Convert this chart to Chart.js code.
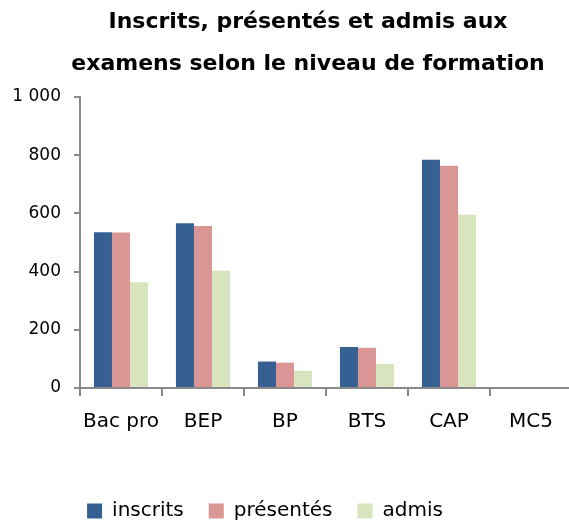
<!DOCTYPE html>
<html>
<head>
<meta charset="utf-8">
<style>
  html, body { margin: 0; padding: 0; background: #fff; overflow: hidden; }
  #wrap { width: 580px; height: 520px; }
</style>
<script src="https://cdn.jsdelivr.net/npm/chart.js@4/dist/chart.umd.min.js"></script>
</head>
<body>
<div id="wrap"><canvas id="chart"></canvas></div>
<script>
// Données
const categories = ['Bac pro', 'BEP', 'BP', 'BTS', 'CAP', 'MC5'];
const inscrits = [535, 566, 91, 141, 784, 0];
const presentes = [534, 557, 87, 138, 764, 0];
const admis = [363, 403, 59, 83, 595, 0];
const yTicks = [0, 200, 400, 600, 800, 1000];

const axisGray = '#8a8a8a';
const fontName = 'DejaVu Sans';

// Le titre et la légende ne sont pas centrés sur la même verticale dans l'original
function shiftBox(box, dx, dy) {
    box.left += dx; box.right += dx;
    box.top += dy; box.bottom += dy;
}
const boxOffsets = {
    id: 'boxOffsets',
    afterLayout(chart) {
        shiftBox(chart.titleBlock, 22, 0);
        shiftBox(chart.legend, -21, 28);
    }
};

function frNumber(v) {
    return String(v).replace(/\B(?=(\d{3})+$)/g, ' ');
}

const ctx = document.getElementById('chart').getContext('2d');
new Chart(ctx, {
    type: 'bar',
    data: {
        labels: categories,
        datasets: [
            { label: 'inscrits', data: inscrits, backgroundColor: '#376092' },
            { label: 'présentés', data: presentes, backgroundColor: '#d99694' },
            { label: 'admis', data: admis, backgroundColor: '#d7e4bd' },
        ],
    },
    options: {
        responsive: true,
        maintainAspectRatio: false,
        animation: false,
        layout: { padding: { left: 0, right: 8, top: 0, bottom: 17 } },
        datasets: { bar: { barPercentage: 1, categoryPercentage: 0.66 } },
        plugins: {
            title: {
                display: true,
                text: ['Inscrits, présentés et admis aux', 'examens selon le niveau de formation'],
                color: '#000',
                font: { family: fontName, size: 22, weight: 'bold', lineHeight: '42px' },
                padding: { top: 1, bottom: 12 },
            },
            legend: {
                position: 'bottom',
                labels: {
                    color: '#000',
                    font: { family: fontName, size: 20 },
                    boxWidth: 15,
                    boxHeight: 15,
                    padding: 25,
                },
            },
            tooltip: { enabled: false },
        },
        scales: {
            x: {
                grid: {
                    offset: true,
                    drawOnChartArea: false,
                    color: axisGray,
                    tickLength: 8,
                    lineWidth: 2,
                },
                border: { color: axisGray, width: 2 },
                ticks: {
                    color: '#000',
                    font: { family: fontName, size: 20 },
                    padding: 14,
                    maxRotation: 0,
                    minRotation: 0,
                    autoSkip: false,
                },
            },
            y: {
                min: 0,
                max: 1000,
                afterFit(scale) { scale.width = 80; },
                afterBuildTicks(scale) { scale.ticks = yTicks.map(v => ({ value: v })); },
                grid: {
                    drawOnChartArea: false,
                    color: axisGray,
                    tickLength: 6,
                    lineWidth: 2,
                },
                border: { color: axisGray, width: 2 },
                ticks: {
                    color: '#000',
                    font: { family: fontName, size: 17 },
                    padding: 13,
                    callback: v => frNumber(v),
                },
            },
        },
    },
    plugins: [boxOffsets],
});
</script>
</body>
</html>
